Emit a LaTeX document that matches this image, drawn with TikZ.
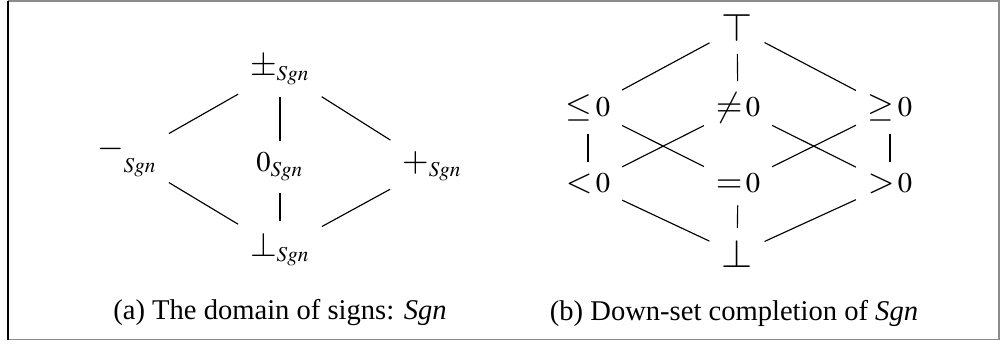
\documentclass[tikz,border=0pt]{standalone}
\usepackage{mathptmx}
\usepackage[no-math]{fontspec}
\setmainfont{Liberation Serif}
\newcommand{\bigrel}[1]{\mathrel{\scalebox{1.2}{$#1$}}}
\newcommand{\bigsym}[1]{\scalebox{1.4}{$#1$}}
\newcommand{\midsym}[1]{\mathord{\scalebox{1.2}{$#1$}}}
\begin{document}
\begin{tikzpicture}[x=0.35pt,y=-0.35pt,
  lbl/.style={inner sep=4pt, anchor=base},
  edge/.style={line width=0.4pt},
  captext/.style={inner sep=0pt, anchor=base}]
\useasboundingbox (0,0) rectangle (1001,345);
\draw[black!45, line width=0.5pt] (8,1) -- (999,1) -- (999,339.5) -- (8,339.5);
\draw[black, line width=0.7pt] (8,0.6) -- (8,340);
% (a)
\node[lbl] (pm) at (280,76) {$\midsym{\pm}_{\mathit{Sgn}}$};
\node[lbl] (mi) at (127,168) {$\raisebox{3.5pt}{$\midsym{-}$}_{\mathit{Sgn}}$};
\node[lbl] (ze) at (280,172) {$0_{\mathit{Sgn}}$};
\node[lbl] (pl) at (432,172) {$\midsym{+}_{\mathit{Sgn}}$};
\node[lbl] (bo) at (280,257) {$\midsym{\bot}_{\mathit{Sgn}}$};
\draw[edge] (pm) -- (mi);
\draw[edge] (pm) -- (ze);
\draw[edge] (pm) -- (pl);
\draw[edge] (mi) -- (bo);
\draw[edge] (ze) -- (bo);
\draw[edge] (pl) -- (bo);
\node[captext] (capa) at (280,320) {(a) The domain of signs: \textit{Sgn}};
% (b)
\node[lbl] (t) at (737,42) {\bigsym{\top}};
\node[lbl] (le) at (588,117) {${\bigrel{\leq}}\mkern2mu0$};
\node[lbl] (ne) at (738,117) {${\bigrel{\neq}}\mkern2mu0$};
\node[lbl] (ge) at (890,117) {${\bigrel{\geq}}\mkern2mu0$};
\node[lbl] (lt) at (588,193) {${\bigrel{<}}\mkern2mu0$};
\node[lbl] (eq) at (738,193) {${\bigrel{=}}\mkern2mu0$};
\node[lbl] (gt) at (890,193) {${\bigrel{>}}\mkern2mu0$};
\node[lbl] (b) at (737,268) {\bigsym{\bot}};
\draw[edge] (t) -- (le);
\draw[edge] (t) -- (ne);
\draw[edge] (t) -- (ge);
\draw[edge] (le) -- (lt);
\draw[edge] (le) -- (eq);
\draw[edge] (ne) -- (lt);
\draw[edge] (ne) -- (gt);
\draw[edge] (ge) -- (eq);
\draw[edge] (ge) -- (gt);
\draw[edge] (lt) -- (b);
\draw[edge] (eq) -- (b);
\draw[edge] (gt) -- (b);
\node[captext] (capb) at (734,321) {(b) Down-set completion of \textit{Sgn}};
\end{tikzpicture}
\end{document}
